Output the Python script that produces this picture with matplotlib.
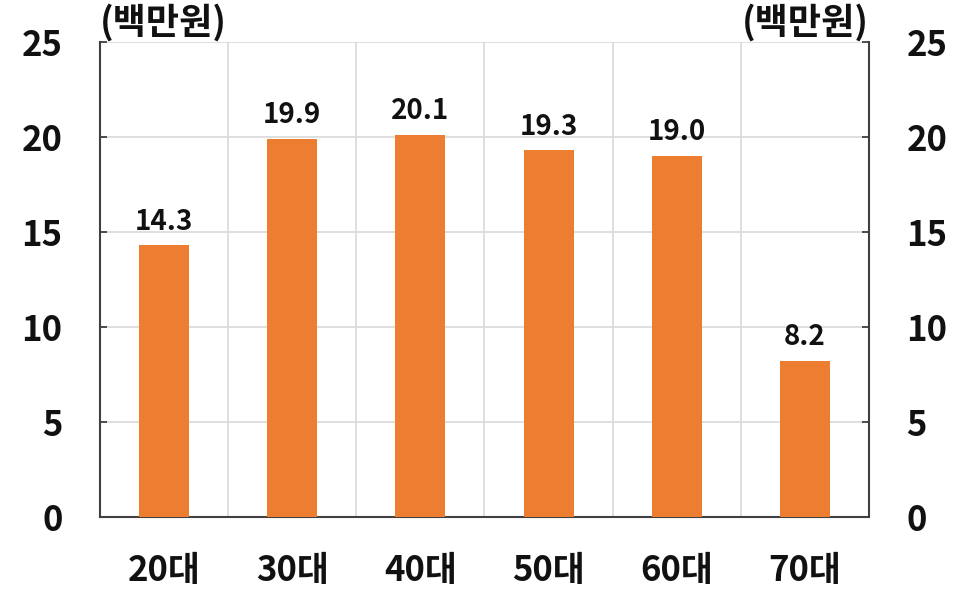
import matplotlib
matplotlib.use("Agg")
import matplotlib.pyplot as plt
import numpy as np

plt.rcParams['font.family'] = ['Noto Sans CJK KR', 'DejaVu Sans']
plt.rcParams['font.weight'] = 'bold'

categories = ['20대', '30대', '40대', '50대', '60대', '70대']
values = [14.3, 19.9, 20.1, 19.3, 19.0, 8.2]
value_labels = ['14.3', '19.9', '20.1', '19.3', '19.0', '8.2']
yticks = [0, 5, 10, 15, 20, 25]
unit = '(백만원)'

bar_color = '#ED7D31'
grid_color = '#D9D9D9'
spine_color = '#404040'

fig = plt.figure(figsize=(9.74, 5.89), dpi=100)
ax = fig.add_axes([100/974, 1 - 517/589, 769/974, 475/589])

x = np.arange(len(categories))
ax.bar(x, values, width=0.39, color=bar_color, zorder=3)

for xi, v, lab in zip(x, values, value_labels):
    ax.annotate(lab, (xi, v), xytext=(0, 7), textcoords='offset points',
                ha='center', va='bottom', fontsize=20, fontweight='bold', color='#111111')

ax.set_xlim(-0.5, len(categories) - 0.5)
ax.set_ylim(0, 25)
ax.set_yticks(yticks)
ax.set_yticklabels([str(t) for t in yticks])
ax.set_xticks(x)
ax.set_xticklabels(categories)
ax.set_xticks(x[:-1] + 0.5, minor=True)

ax.grid(axis='y', which='major', color=grid_color, linewidth=1.2, zorder=0)
ax.grid(axis='x', which='minor', color=grid_color, linewidth=1.2, zorder=0)

ax.tick_params(axis='y', direction='in', length=5, width=1.3, color=spine_color,
               left=True, right=True, labelleft=True, labelright=True,
               labelsize=25, pad=27, labelcolor='#111111')
ax.tick_params(axis='x', which='major', length=0, labelsize=25, pad=26, labelcolor='#111111')
ax.tick_params(axis='x', which='minor', length=0)
for lab in ax.get_xticklabels() + ax.get_yticklabels():
    lab.set_fontweight('bold')

ax.spines['top'].set_visible(False)
for s in ['left', 'right', 'bottom']:
    ax.spines[s].set_color(spine_color)
    ax.spines[s].set_linewidth(1.5)

ax.text(0, 1.0, unit, transform=ax.transAxes, ha='left', va='bottom',
        fontsize=26, fontweight='bold', color='#111111')
ax.text(1.0, 1.0, unit, transform=ax.transAxes, ha='right', va='bottom',
        fontsize=26, fontweight='bold', color='#111111')

fig.savefig('out.png', dpi=100, facecolor='white')
